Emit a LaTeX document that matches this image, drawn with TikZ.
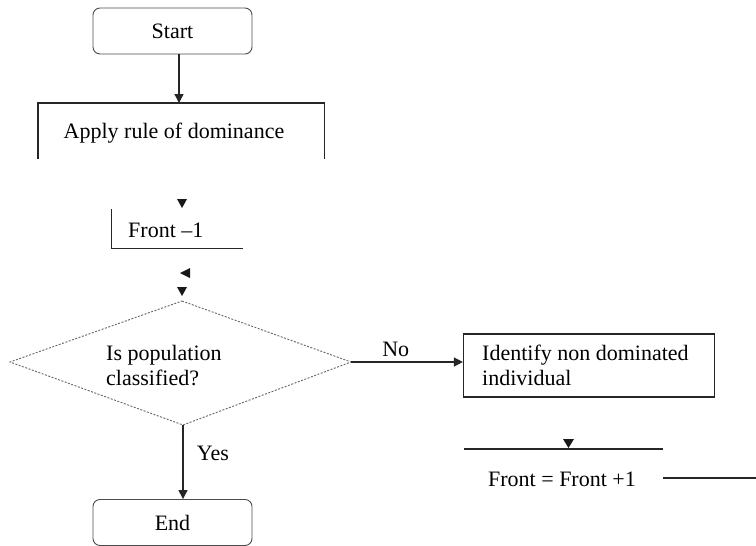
\documentclass[tikz,border=0pt]{standalone}
\usepackage{fontspec}
\setmainfont{Liberation Serif}
\usetikzlibrary{arrows.meta}
\begin{document}
\begin{tikzpicture}[x=1pt,y=-1pt,
  every node/.style={font=\fontsize{22}{25}\selectfont, inner sep=0pt},
  ln/.style={draw=black!85, line width=1.4pt},
  arr/.style={ln, -{Triangle[length=9pt,width=9pt]}},
  term/.style={ln, line width=0.9pt, draw=black!70, rounded corners=7pt, minimum width=159pt, minimum height=46pt},
  tip/.style={fill=black!90}
]
\useasboundingbox (0,0) rectangle (756,546);
% Start
\node[term] (start) at (172.5,31) {Start};
% Apply rule of dominance (open-bottom box)
\node[minimum width=286pt, minimum height=56pt] (apply) at (181,131) {};
\node (applyt) at (174,133) {Apply rule of dominance};
\draw[ln] (apply.south west) -- (apply.north west) -- (apply.north east) -- (apply.south east);
\draw[arr] (start.south -| 179,0) -- (179,103);
% loose arrowhead
\fill[tip] (177,199) -- (187,199) -- (182,208) -- cycle;
% Front -1 (L-shaped)
\node[minimum width=131pt, minimum height=39pt] (f1) at (177,229) {};
\node[anchor=west] (f1t) at (128,230) {Front –1};
\draw[ln] (f1.north west) -- (f1.south west) -- (f1.south east);
% loose arrowheads
\fill[tip] (180,273) -- (190,268) -- (190,278) -- cycle;
\fill[tip] (177,287) -- (187,287) -- (182,296) -- cycle;
% Diamond
\coordinate (dt) at (182,301);
\coordinate (dl) at (10,362);
\coordinate (dr) at (351,362);
\coordinate (db) at (183,425);
\draw[draw=black!60, line width=0.9pt, dash pattern=on 2pt off 1.5pt] (dt) -- (dr) -- (db) -- (dl) -- cycle;
\node[align=left, anchor=west] (q) at (106,366) {Is population\\classified?};
% Identify box
\node[ln, line width=1.2pt, minimum width=251pt, minimum height=63pt] (ident) at (589,365.5) {};
\node[align=left, anchor=west] (identt) at (482,365.5) {Identify non dominated\\individual};
\draw[arr] (dr) -- (ident.west |- dr) node[pos=0.4, above=5pt] (no) {No};
% Front = Front + 1
\coordinate (ftl) at (464,449);
\coordinate (ftr) at (663,449);
\draw[ln, line width=1.1pt] (ftl) -- (ftr);
\fill[tip] (563,439) -- (574,439) -- (568.5,448) -- cycle;
\node (ff) at (562,479) {Front = Front +1};
\coordinate (fr1) at (663,478);
\coordinate (fr2) at (756,478);
\draw[ln, line width=1.1pt] (fr1) -- (fr2);
% End
\node[term] (end) at (172.5,522.5) {End};
\draw[arr] (db) -- (end.north -| db);
\node (yes) at (213,453) {Yes};
\end{tikzpicture}
\end{document}
